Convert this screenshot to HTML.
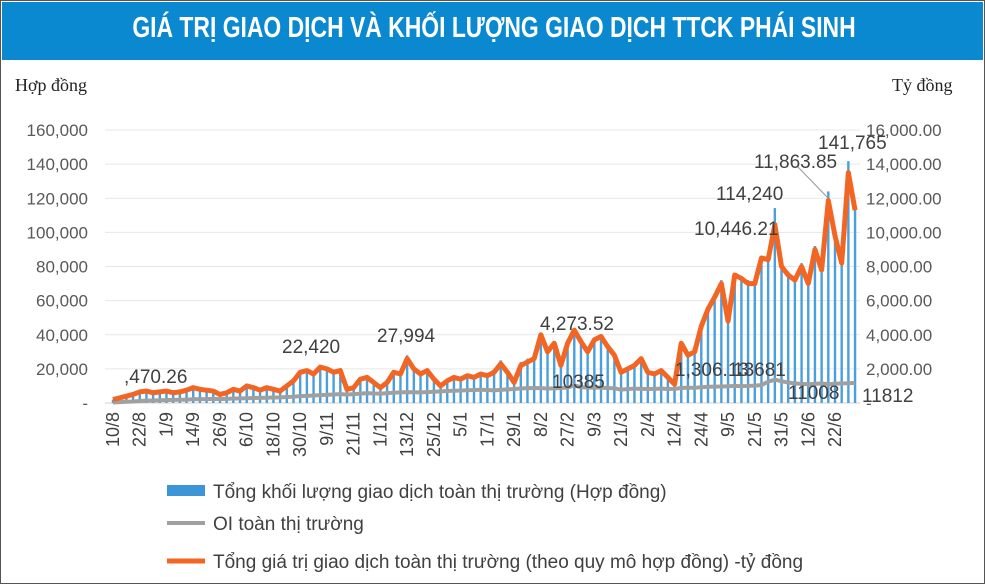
<!DOCTYPE html>
<html><head><meta charset="utf-8">
<style>
body{margin:0;background:#fff;width:985px;height:584px;overflow:hidden;font-family:"Liberation Sans",sans-serif}
#wrap{position:absolute;left:0;top:0;width:983px;height:582px;border:1px solid #555;}
#title{position:absolute;left:1px;top:1px;width:981px;height:58px;background:#0a88d0;color:#fff;}
#title span{position:absolute;left:492px;top:10px;white-space:nowrap;font-weight:bold;font-size:29px;transform:translateX(-50%) scaleX(0.79);transform-origin:center;display:block}
</style></head><body>
<div id="wrap">
<div id="title"><span>GIÁ TRỊ GIAO DỊCH VÀ KHỐI LƯỢNG GIAO DỊCH TTCK PHÁI SINH</span></div>
</div>
<svg id="svg" width="985" height="584" style="position:absolute;left:0;top:0"></svg>
<script>
const labels=["10/8","22/8","1/9","14/9","26/9","6/10","18/10","30/10","9/11","21/11","1/12","13/12","25/12","5/1","17/1","29/1","8/2","27/2","9/3","21/3","2/4","12/4","24/4","9/5","21/5","31/5","12/6","22/6"];
const leftTicks=[0,20000,40000,60000,80000,100000,120000,140000,160000];
const leftTickText=["-","20,000","40,000","60,000","80,000","100,000","120,000","140,000","160,000"];
const rightTickText=["-","2,000.00","4,000.00","6,000.00","8,000.00","10,000.00","12,000.00","14,000.00","16,000.00"];
const valueSeries=[200,300,400,500, 650,700,600,650, 700,600,650,750, 900,800,750,700, 500,600,800,700, 1000,900,750,900, 800,700,1000,1300, 1800,1900,1700,2100, 2000,1800,1900,800, 900,1400,1500,1200, 900,1200,1800,1700, 2600,2000,1700,1900, 1400,1000,1300,1500, 1400,1600,1500,1700, 1600,1800,2300,1800, 1200,2200,2400,2600, 4000,3000,3500,2200, 3500,4270,3600,3000, 3700,3900,3300,2800, 1800,2000,2200,2600, 1800,1700,1900,1500, 1100,3500,2800,3000, 4500,5500,6200,7000, 4800,7500,7300,7000, 7000,8500,8400,10446, 8000,7500,7200,8000, 7000,9000,7800,11864, 9800,8200,13500,11300];
const volumeSeries=[2000,3000,4000,5000, 6000,6500,6000,6500, 6500,6000,6500,7500, 8500,8000,7500,7000, 5000,6000,8000,7000, 9500,9000,7500,9000, 8000,7500,11000,14000, 19000,20000,18000,22420, 21000,19000,20000,9000, 10000,15000,16000,13000, 10000,13000,19000,18000, 27994,21000,18000,20000, 15000,11000,14000,16000, 15000,17000,16000,18000, 17000,19000,25000,19000, 13000,24000,26000,28000, 38000,32000,36000,24000, 37000,42000,38000,32000, 38000,40000,34000,29000, 19000,21000,23000,27000, 19000,18000,20000,16000, 12000,36000,30000,32000, 46000,56000,63000,72000, 50000,76000,74000,72000, 72000,86000,85000,114240, 82000,77000,74000,82000, 72000,92000,80000,124000, 100000,84000,141765,114000];
const oiSeries=[300,500,700,900, 1200,1400,1500,1600, 1700,1800,1900,2000, 2200,2300,2300,2400, 2300,2400,2600,2700, 2800,2900,3000,3100, 3200,3300,3500,3700, 4000,4200,4400,4600, 4800,5000,5200,5000, 5200,5500,5800,5600, 5500,5800,6000,6200, 6400,6300,6200,6400, 6600,6800,7000,7200, 7300,7500,7600,7800, 7600,7400,7700,8000, 8200,8500,8700,8800, 8700,8500,8600,8800, 9000,10385,9200,9000, 9100,9000,8800,8600, 7800,8200,8400,8300, 8200,8300,8400,8200, 8300,8800,9000,8900, 9200,9500,9600,9700, 9800,10000,9900,10000, 10200,10500,12500,13681, 12800,12000,11500,11200, 11000,11200,11500,11008, 11300,11500,11600,11812];
const NS="http://www.w3.org/2000/svg";
const svg=document.getElementById('svg');
const X0=113,DX=(835-113)/108,Y0=403,YT=130;
const xs=i=>X0+i*DX;
const yL=v=>Y0-v/160000*(Y0-YT);
const yR=v=>Y0-v/16000*(Y0-YT);
function mk(tag,attrs,txt){const e=document.createElementNS(NS,tag);for(const k in attrs)e.setAttribute(k,attrs[k]);if(txt!==undefined)e.textContent=txt;svg.appendChild(e);return e;}
leftTicks.forEach((t,i)=>{
 const g=mk('line',{x1:105,x2:860,y1:yL(t),y2:yL(t),stroke:i==0?'#d0d0d0':'#e3e8ee','stroke-width':1});
 
 
 const a=mk('text',{x:88,y:yL(t)+6,'text-anchor':'end','font-size':17,fill:'#595959'},leftTickText[i]);
 
 
 const b=mk('text',{x:866,y:yL(t)+6,'text-anchor':'start','font-size':17,fill:'#595959'},rightTickText[i]);
 
 
});
volumeSeries.forEach((v,i)=>{
 const r=mk('rect',{x:xs(i)-1.2,y:yL(v),width:2.4,height:Y0-yL(v),fill:'#4a9fdc'});
 
 
});
const oi=mk('polyline',{points:oiSeries.map((v,i)=>xs(i)+','+yL(v)).join(' '),fill:'none',stroke:'#a0a0a0','stroke-width':4,'stroke-linejoin':'round'});


const val=mk('polyline',{points:valueSeries.map((v,i)=>xs(i)+','+yR(v)).join(' '),fill:'none',stroke:'#f26522','stroke-width':5,'stroke-linejoin':'round'});


labels.forEach((l,i)=>{
 const x=xs(i*4);
 const t=mk('text',{x:0,y:0,transform:`translate(${x+6},412) rotate(-90)`,'text-anchor':'end','font-size':18,fill:'#404040'},l);
 
 
});
const ld=mk('line',{x1:797,y1:166,x2:828,y2:198,stroke:'#999','stroke-width':1});


const dl=[[",470.26",124,383],["22,420",282,353],["27,994",377,342],["4,273.52",540,330],["10385",552,388],["1,306.13",675,376],["13681",733,376],["114,240",716,200],["10,446.21",694,235],["11,863.85",754,168],["141,765",818,149],["11008",788,399],["11812",862,402]];
dl.forEach(d=>{
 const t=mk('text',{x:d[1],y:d[2],'font-size':19,fill:'#404040'},d[0]);
 
 
});
const at1=mk('text',{x:15,y:91,'font-size':18,fill:'#222','font-family':'Liberation Serif, serif'},'Hợp đồng');


const at2=mk('text',{x:892,y:91,'font-size':18,fill:'#222','font-family':'Liberation Serif, serif'},'Tỷ đồng');


const lg=[['rect','Tổng khối lượng giao dịch toàn thị trường (Hợp đồng)',491,'#3b95d6'],['gray','OI toàn thị trường',523,'#a0a0a0'],['org','Tổng giá trị giao dịch toàn thị trường (theo quy mô hợp đồng) -tỷ đồng',561,'#f26522']];
lg.forEach(e=>{
 let m;
 if(e[0]=='rect') m=mk('rect',{x:167,y:e[2]-6,width:38,height:11,fill:e[3]});
 else m=mk('line',{x1:167,x2:205,y1:e[2],y2:e[2],stroke:e[3],'stroke-width':e[0]=='org'?5:4});
 
 
 const t=mk('text',{x:213,y:e[2]+7,'font-size':19,fill:'#404040'},e[1]);
 
 
});
</script>
</body></html>
